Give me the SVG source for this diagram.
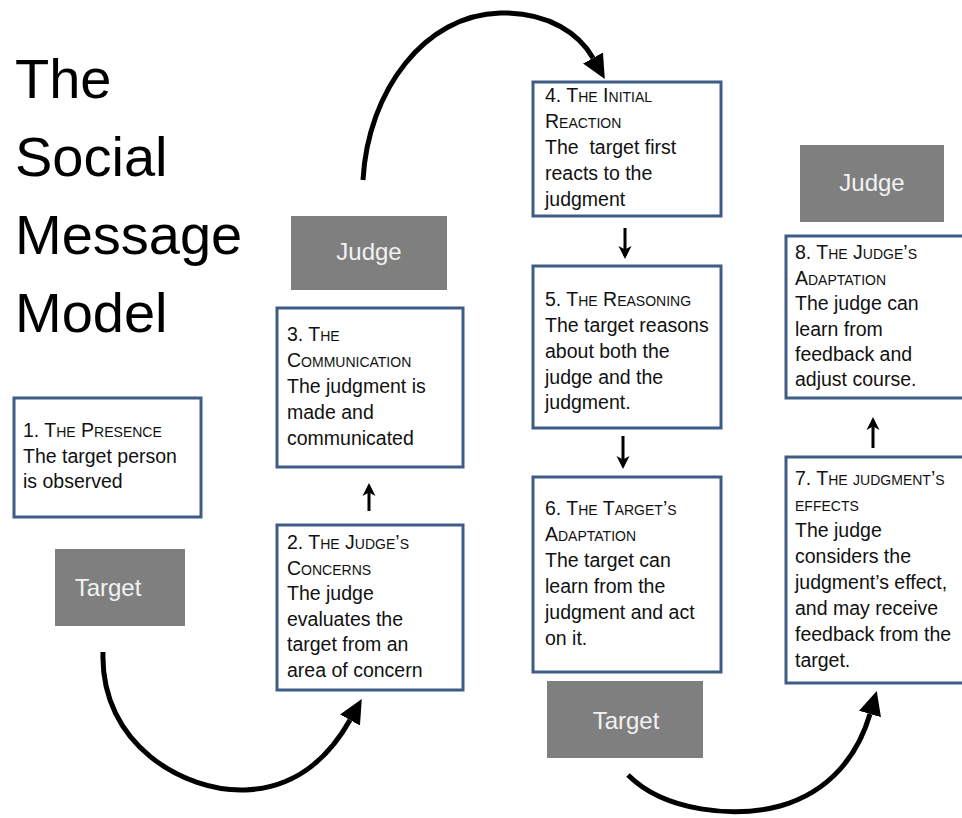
<svg xmlns="http://www.w3.org/2000/svg" width="962" height="818" viewBox="0 0 962 818">
<defs>
<style>
.box{fill:#ffffff;stroke:#3e5c85;stroke-width:3}
.actor{fill:#7f7f7f}
.actor-t{font-family:"Liberation Sans",Arial,sans-serif;font-size:24px;fill:#f2f2f2;text-anchor:middle}
.t{font-family:"Liberation Sans",Arial,sans-serif;font-size:19.5px;fill:#111111}
.sc{font-variant:small-caps}
.title{font-family:"Liberation Sans",Arial,sans-serif;font-size:56px;fill:#000000}
.curve{fill:none;stroke:#000000;stroke-width:5;stroke-linecap:butt}
.straight{fill:none;stroke:#000000;stroke-width:3}
</style>
<marker id="bigHead" markerUnits="userSpaceOnUse" markerWidth="24" markerHeight="24" refX="0" refY="10" orient="auto" viewBox="0 0 21 20">
<path d="M0,0 L21,10 L0,20 Z" fill="#000000"/>
</marker>
<marker id="smallHead" markerUnits="userSpaceOnUse" markerWidth="14" markerHeight="14" refX="10" refY="7" orient="auto" viewBox="0 0 14 14">
<path d="M0,0.5 L13,7 L0,13.5 L3.5,7 Z" fill="#000000"/>
</marker>
</defs>
<rect width="962" height="818" fill="#ffffff"/>

<g id="title">
<text class="title" x="15" y="98">The</text>
<text class="title" x="15" y="176">Social</text>
<text class="title" x="15" y="254">Message</text>
<text class="title" x="15" y="332">Model</text>
</g>

<g id="target-left">
<rect class="actor" x="55" y="549" width="130" height="77"/>
<text class="actor-t" x="108" y="596">Target</text>
</g>
<g id="judge-left">
<rect class="actor" x="291" y="216" width="156" height="74"/>
<text class="actor-t" x="369" y="260">Judge</text>
</g>
<g id="target-right">
<rect class="actor" x="547" y="681" width="156" height="77"/>
<text class="actor-t" x="626" y="729">Target</text>
</g>
<g id="judge-right">
<rect class="actor" x="800" y="145" width="144" height="77"/>
<text class="actor-t" x="872" y="191">Judge</text>
</g>

<g id="step1">
<rect class="box" x="14" y="398" width="187" height="119"/>
<text class="t"><tspan class="sc" x="23" y="437">1. The Presence</tspan><tspan x="23" y="462.5">The target person</tspan><tspan x="23" y="488">is observed</tspan></text>
</g>

<g id="step2">
<rect class="box" x="277" y="525" width="186" height="165"/>
<text class="t"><tspan class="sc" x="287" y="549">2. The Judge’s</tspan><tspan class="sc" x="287" y="574.5">Concerns</tspan><tspan x="287" y="600">The judge</tspan><tspan x="287" y="625.5">evaluates the</tspan><tspan x="287" y="651">target from an</tspan><tspan x="287" y="676.5">area of concern</tspan></text>
</g>

<g id="step3">
<rect class="box" x="277" y="308" width="186" height="159"/>
<text class="t"><tspan class="sc" x="287" y="341">3. The</tspan><tspan class="sc" x="287" y="367">Communication</tspan><tspan x="287" y="393">The judgment is</tspan><tspan x="287" y="419">made and</tspan><tspan x="287" y="445">communicated</tspan></text>
</g>

<g id="step4">
<rect class="box" x="533" y="82" width="188" height="134"/>
<text class="t"><tspan class="sc" x="545" y="102">4. The Initial</tspan><tspan class="sc" x="545" y="128">Reaction</tspan><tspan x="545" y="154" xml:space="preserve">The  target first</tspan><tspan x="545" y="180">reacts to the</tspan><tspan x="545" y="206">judgment</tspan></text>
</g>

<g id="step5">
<rect class="box" x="533" y="266" width="188" height="162"/>
<text class="t"><tspan class="sc" x="545" y="306">5. The Reasoning</tspan><tspan x="545" y="332">The target reasons</tspan><tspan x="545" y="358">about both the</tspan><tspan x="545" y="383.5">judge and the</tspan><tspan x="545" y="409">judgment.</tspan></text>
</g>

<g id="step6">
<rect class="box" x="533" y="477" width="188" height="195"/>
<text class="t"><tspan class="sc" x="545" y="515">6. The Target’s</tspan><tspan class="sc" x="545" y="541">Adaptation</tspan><tspan x="545" y="567">The target can</tspan><tspan x="545" y="593">learn from the</tspan><tspan x="545" y="619">judgment and act</tspan><tspan x="545" y="645">on it.</tspan></text>
</g>

<g id="step7">
<rect class="box" x="786" y="457" width="182" height="226"/>
<text class="t"><tspan class="sc" x="795" y="485">7. The judgment’s</tspan><tspan class="sc" x="795" y="511">effects</tspan><tspan x="795" y="537">The judge</tspan><tspan x="795" y="563">considers the</tspan><tspan x="795" y="589">judgment’s effect,</tspan><tspan x="795" y="615">and may receive</tspan><tspan x="795" y="641">feedback from the</tspan><tspan x="795" y="667">target.</tspan></text>
</g>

<g id="step8">
<rect class="box" x="786" y="236" width="182" height="162"/>
<text class="t"><tspan class="sc" x="795" y="259">8. The Judge’s</tspan><tspan class="sc" x="795" y="284.5">Adaptation</tspan><tspan x="795" y="310">The judge can</tspan><tspan x="795" y="335.5">learn from</tspan><tspan x="795" y="361">feedback and</tspan><tspan x="795" y="386">adjust course.</tspan></text>
</g>

<g id="connectors">
<path class="curve" d="M103,652 C100,745 185,792 245,790 C300,788 332,752 350,720" marker-end="url(#bigHead)"/>
<path class="curve" d="M363,180 C368,90 425,15 500,13 C550,12 580,35 593,58" marker-end="url(#bigHead)"/>
<path class="curve" d="M628,775 C665,812 735,818 780,806 C830,792 858,755 870,714" marker-end="url(#bigHead)"/>
<path class="straight" d="M369,511 L369,486" marker-end="url(#smallHead)"/>
<path class="straight" d="M625,228 L625,256" marker-end="url(#smallHead)"/>
<path class="straight" d="M623,436 L623,466" marker-end="url(#smallHead)"/>
<path class="straight" d="M873,448 L873,420" marker-end="url(#smallHead)"/>
</g>
</svg>
